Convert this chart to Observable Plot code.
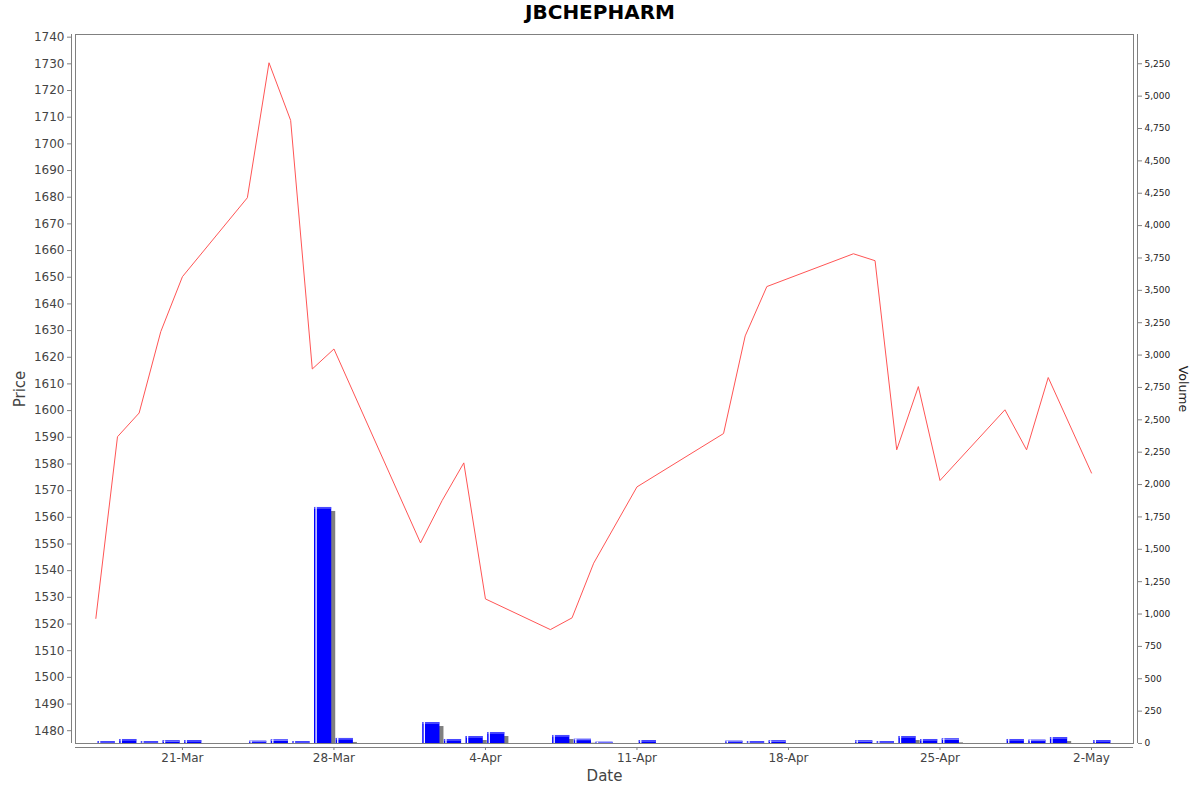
<!DOCTYPE html>
<html>
<head>
<meta charset="utf-8">
<script src="https://cdn.jsdelivr.net/npm/d3@7"></script>
<script src="https://cdn.jsdelivr.net/npm/@observablehq/plot@0.6"></script>
<style>
  html, body { margin: 0; padding: 0; background: #fff; }
  #title { width: 1200px; height: 26px; line-height: 26px; text-align: center; font: bold 20px "DejaVu Sans", sans-serif; color: #000; }
  #chart { position: relative; width: 1200px; height: 766px; }
  #chart > svg { position: absolute; left: 0; top: 0; }
</style>
</head>
<body>
<div id="title">JBCHEPHARM</div>
<div id="chart"></div>
<script>
const dates = ["2025-03-17","2025-03-18","2025-03-19","2025-03-20","2025-03-21",
  "2025-03-24","2025-03-25","2025-03-26","2025-03-27","2025-03-28",
  "2025-04-01","2025-04-02","2025-04-03","2025-04-04",
  "2025-04-07","2025-04-08","2025-04-09","2025-04-11",
  "2025-04-15","2025-04-16","2025-04-17",
  "2025-04-21","2025-04-22","2025-04-23","2025-04-24","2025-04-25",
  "2025-04-28","2025-04-29","2025-04-30","2025-05-02"];
const prices = [1522.1,1590.2,1599.1,1629.6,1650.2,
  1679.8,1730.4,1708.8,1615.6,1623.1,
  1550.4,1566.3,1580.4,1529.4,
  1517.9,1522.3,1542.8,1571.4,
  1591.4,1628.0,1646.5,
  1658.8,1656.2,1585.3,1609.0,1573.8,
  1600.3,1585.3,1612.4,1576.6];
const volumes = [15,31,15,21,23,
  18,28,15,1823,39,
  162,31,54,85,
  62,33,10,23,
  18,15,21,
  21,15,54,31,36,
  31,26,46,23];
const dateTicks = ["2025-03-21","2025-03-28","2025-04-04","2025-04-11","2025-04-18","2025-04-25","2025-05-02"];
const priceTicks = d3.range(1480, 1741, 10);
const volumeTicks = d3.range(0, 5251, 250);
const priceDomain = [1475.2, 1741];
const volumeDomain = [0, 5476];

const parse = d3.utcParse("%Y-%m-%d");
const data = dates.map((d, i) => ({date: parse(d), price: prices[i], vol: volumes[i]}));
const tickDates = dateTicks.map(parse);
const start = data[0].date;
const end = d3.utcDay.offset(data[data.length - 1].date, 1);
const pad = (end - start) * 0.02;
const xDomain = [new Date(+start - pad), new Date(+end + pad)];

const W = 1200, H = 766;
const M = {marginTop: 8, marginBottom: 49, marginLeft: 75, marginRight: 67};
const axisGrey = "#808080";
const inset = 2.2;

const volPlot = Plot.plot({
  width: W, height: H, ...M,
  style: {fontFamily: "DejaVu Sans, sans-serif", background: "transparent", overflow: "visible"},
  x: {type: "utc", domain: xDomain, axis: null},
  y: {domain: volumeDomain, axis: null},
  marks: [
    Plot.rectY(data, {x1: "date", x2: d => d3.utcDay.offset(d.date, 1), y: "vol",
      insetLeft: inset, insetRight: inset, dx: 4, dy: 4, fill: "#808080", clip: true}),
    Plot.rectY(data, {x1: "date", x2: d => d3.utcDay.offset(d.date, 1), y: "vol",
      insetLeft: inset, insetRight: inset, fill: "#0000ff", clip: true}),
    Plot.ruleY(data, {y: "vol", x1: "date", x2: d => d3.utcDay.offset(d.date, 1),
      stroke: "#8c8cff", strokeWidth: 1, insetLeft: inset, insetRight: inset, dy: 0.5}),
    Plot.ruleX(data, {x: "date", y1: 0, y2: "vol", dx: inset + 1.6, stroke: "#ffffff", strokeWidth: 1.3}),
    Plot.ruleX([xDomain[1]], {dx: 4, stroke: axisGrey}),
    Plot.axisY({anchor: "right", ticks: volumeTicks, tickFormat: d3.format(","), tickSize: 4, tickPadding: 3,
      dx: 4, fontSize: 9, stroke: axisGrey, fill: "#222", label: null}),
    Plot.text(["Volume"], {frameAnchor: "right", dx: 49, rotate: 90, textAnchor: "middle", fontSize: 12.5, fill: "#222"})
  ]
});

const pricePlot = Plot.plot({
  width: W, height: H, ...M,
  style: {fontFamily: "DejaVu Sans, sans-serif", background: "transparent", overflow: "visible"},
  x: {type: "utc", domain: xDomain, axis: null},
  y: {domain: priceDomain, axis: null},
  marks: [
    Plot.frame({stroke: axisGrey}),
    Plot.ruleX([xDomain[0]], {dx: -4, stroke: axisGrey}),
    Plot.ruleY([priceDomain[0]], {dy: 4, stroke: axisGrey}),
    Plot.axisY({ticks: priceTicks, tickFormat: d3.format("d"), tickSize: 4, tickPadding: 3, dx: -4, fontSize: 12,
      stroke: axisGrey, fill: "#444", label: null}),
    Plot.axisX({ticks: tickDates, tickFormat: d3.utcFormat("%-d-%b"), tickSize: 3, tickPadding: 3, dy: 4,
      fontSize: 12, stroke: axisGrey, fill: "#444", label: null}),
    Plot.line(data, {x: "date", y: "price", stroke: "#ff5555", strokeWidth: 1}),
    Plot.text(["Price"], {frameAnchor: "left", dx: -55, rotate: -90, textAnchor: "middle", fontSize: 15, fill: "#444"}),
    Plot.text(["Date"], {frameAnchor: "bottom", dy: 37, fontSize: 15, fill: "#444"})
  ]
});

const chart = document.getElementById("chart");
chart.appendChild(volPlot);
chart.appendChild(pricePlot);
</script>
</body>
</html>
